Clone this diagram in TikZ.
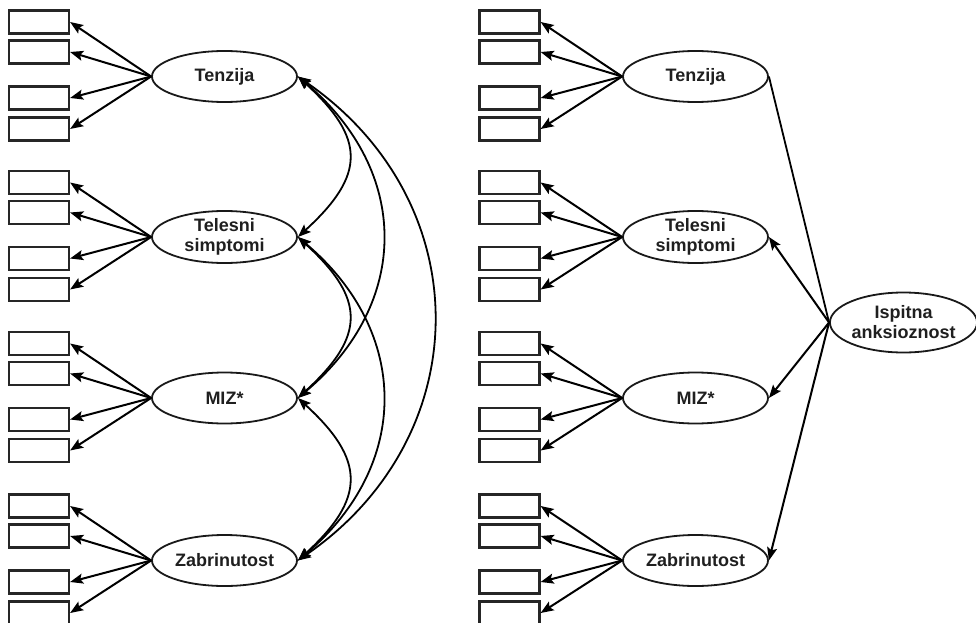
\documentclass[tikz,border=0pt]{standalone}
\usepackage{fontspec}
\setmainfont{Liberation Sans}
\usetikzlibrary{shapes.geometric,arrows.meta}
\tikzset{
  tip/.tip={Stealth[length=13pt,width=10pt,inset=2.5pt]},
  ind/.style={draw=black!85,line width=2.2pt,minimum width=60pt,minimum height=23pt,inner sep=0pt},
  lat/.style={draw=black!90,line width=1.8pt,ellipse,minimum width=145pt,minimum height=51pt,inner sep=0pt,align=center,text=black!88,font=\fontsize{18}{20}\selectfont\bfseries},
  con/.style={line width=2pt,-tip},
  cov/.style={line width=1.8pt,tip-tip},
  plain/.style={line width=1.8pt}
}
\begin{document}
\begin{tikzpicture}[x=1pt,y=-1pt]
\useasboundingbox (0,0) rectangle (976,623);
\clip (0,0) rectangle (976,623);
\foreach \n/\t/\y in {A/Tenzija/76.5,B/{Telesni\\simptomi}/237,C/MIZ*/398,D/Zabrinutost/560.5}{
  \node[lat] (L\n) at (224.5,\y) {\t};
  \node[lat] (R\n) at (695.5,\y) {\t};
  \foreach \k/\d in {1/-54.5,2/-24.5,3/21.5,4/52.5}{
    \node[ind] (Lb\n\k) at (39,\y+\d) {};
    \node[ind] (Rb\n\k) at (509.5,\y+\d) {};
    \draw[con] (L\n.west) -- (Lb\n\k.east);
    \draw[con] (R\n.west) -- (Rb\n\k.east);
  }
}
% covariances
\draw[cov] (LA.east) .. controls +(68,62) and +(68,-62) .. (LB.east);
\draw[cov] (LB.east) .. controls +(68,62) and +(68,-62) .. (LC.east);
\draw[cov] (LC.east) .. controls +(68,62) and +(68,-62) .. (LD.east);
\draw[cov] (LA.east) .. controls +(113,95) and +(113,-95) .. (LC.east);
\draw[cov] (LB.east) .. controls +(113,95) and +(113,-95) .. (LD.east);
\draw[cov] (LA.east) .. controls +(181,125) and +(181,-125) .. (LD.east);
% right panel second order
\node[lat,minimum width=143pt,minimum height=60pt] (G) at (903.5,322.5) {Ispitna\\anksioznost};
\draw[plain] (G.west) -- (RA.east);
\draw[con] (G.west) -- (RB.east);
\draw[con] (G.west) -- (RC.east);
\draw[con] (G.west) -- (RD.east);
\end{tikzpicture}
\end{document}
